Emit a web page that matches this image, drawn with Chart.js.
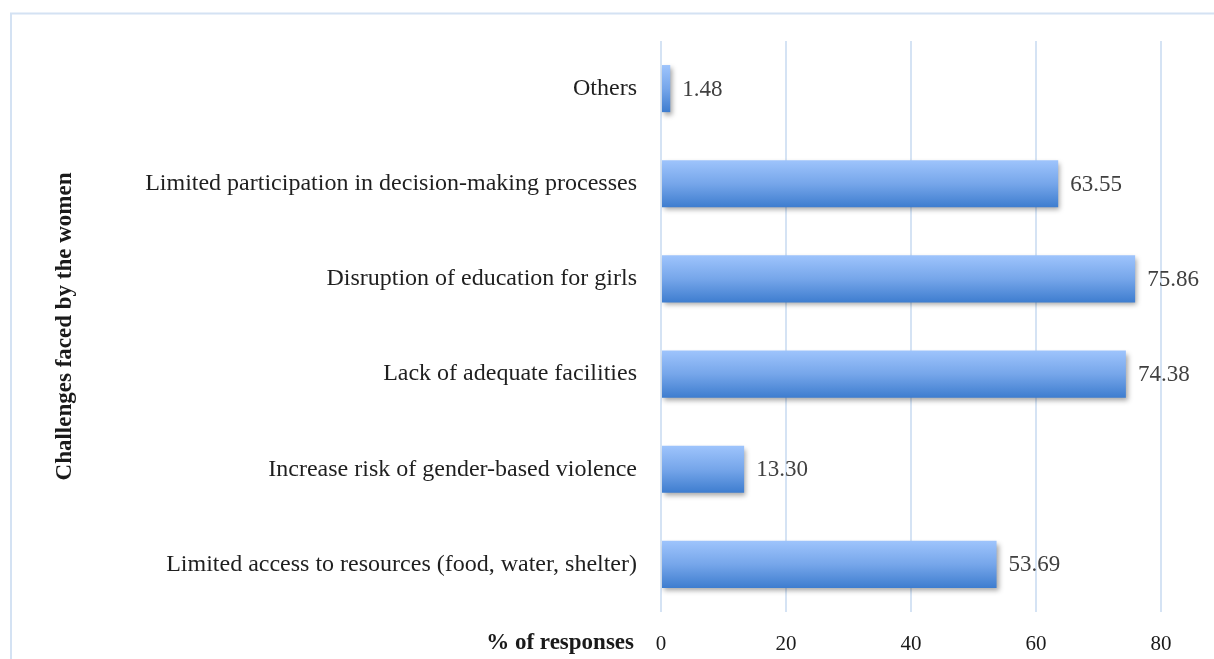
<!DOCTYPE html>
<html>
<head>
<meta charset="utf-8">
<script src="https://cdn.jsdelivr.net/npm/chart.js@4.4.1/dist/chart.umd.min.js"></script>
<style>
  html, body { margin: 0; padding: 0; background: #ffffff; overflow: hidden; }
  #wrap { width: 1214px; height: 659px; position: relative; }
</style>
</head>
<body>
<div id="wrap"><canvas id="c" width="1214" height="659"></canvas></div>
<script>
const categories = [
  "Others",
  "Limited participation in decision-making processes",
  "Disruption of education for girls",
  "Lack of adequate facilities",
  "Increase risk of gender-based violence",
  "Limited access to resources (food, water, shelter)"
];
const responses = [1.48, 63.55, 75.86, 74.38, 13.30, 53.69];
const xTicks = [0, 20, 40, 60, 80];
const yTitle = "Challenges faced by the women";
const xTitle = "% of responses";

const SERIF = "'Liberation Serif', 'DejaVu Serif', serif";

function barGradient(ctx) {
  const chart = ctx.chart;
  const y = chart.scales.y;
  if (!y || !chart.chartArea || ctx.dataIndex === undefined) return '#6b9ee6';
  const center = y.getPixelForValue(ctx.dataIndex);
  const band = (chart.chartArea.bottom - chart.chartArea.top) / categories.length;
  const half = band * 0.495 / 2;
  const g = chart.ctx.createLinearGradient(0, center - half, 0, center + half);
  g.addColorStop(0, '#9ec4fc');
  g.addColorStop(0.5, '#76a6ea');
  g.addColorStop(1, '#3e7dcf');
  return g;
}

const framePlugin = {
  id: 'frame',
  beforeDraw(chart) {
    const c = chart.ctx;
    c.save();
    c.fillStyle = '#ffffff';
    c.fillRect(0, 0, chart.width, chart.height);
    c.strokeStyle = '#d4e2f3';
    c.lineWidth = 2;
    c.beginPath();
    c.moveTo(11, 659);
    c.lineTo(11, 13.5);
    c.lineTo(1214, 13.5);
    c.stroke();
    c.restore();
  }
};

const shadowPlugin = {
  id: 'barShadow',
  beforeDatasetDraw(chart) {
    const c = chart.ctx;
    c.save();
    c.shadowColor = 'rgba(0,0,0,0.35)';
    c.shadowBlur = 5;
    c.shadowOffsetX = 2;
    c.shadowOffsetY = 3;
  },
  afterDatasetDraw(chart) {
    chart.ctx.restore();
  }
};

const labelPlugin = {
  id: 'valueLabels',
  afterDatasetsDraw(chart) {
    const c = chart.ctx;
    const meta = chart.getDatasetMeta(0);
    c.save();
    c.font = "23px " + SERIF;
    c.fillStyle = '#404040';
    c.textAlign = 'left';
    c.textBaseline = 'middle';
    meta.data.forEach((bar, i) => {
      c.fillText(responses[i].toFixed(2), bar.x + 12, bar.y + 1);
    });
    // x-axis title, placed left of the first tick
    c.font = "bold 23px " + SERIF;
    c.fillStyle = '#1a1a1a';
    c.textAlign = 'right';
    const xs = chart.scales.x;
    c.fillText(xTitle, xs.getPixelForValue(0) - 27, 643);
    c.restore();
  }
};

new Chart(document.getElementById('c'), {
  type: 'bar',
  data: {
    labels: categories,
    datasets: [{
      data: responses,
      backgroundColor: barGradient,
      borderWidth: 0,
      categoryPercentage: 1.0,
      barPercentage: 0.495
    }]
  },
  options: {
    indexAxis: 'y',
    responsive: false,
    animation: false,
    devicePixelRatio: 1,
    layout: { padding: { top: 41, right: 53, bottom: 0, left: 0 } },
    plugins: {
      legend: { display: false },
      tooltip: { enabled: false }
    },
    scales: {
      x: {
        min: 0,
        max: 80,
        afterBuildTicks(scale) { scale.ticks = xTicks.map(v => ({ value: v })); },
        afterFit(scale) { scale.height = 47; },
        grid: { color: '#d5e3f4', lineWidth: 2, drawTicks: false },
        border: { display: false },
        ticks: {
          padding: 20,
          color: '#1a1a1a',
          font: { family: SERIF, size: 21 }
        }
      },
      y: {
        afterFit(scale) { scale.width = 661; },
        grid: { display: false, drawTicks: false },
        border: { display: false },
        ticks: {
          padding: 24,
          color: '#1f1f1f',
          font: { family: SERIF, size: 24 }
        },
        title: {
          display: true,
          text: yTitle,
          color: '#1a1a1a',
          font: { family: SERIF, size: 23, weight: 'bold' },
          padding: { top: 51, bottom: 0 }
        }
      }
    }
  },
  plugins: [framePlugin, shadowPlugin, labelPlugin]
});
</script>
</body>
</html>
